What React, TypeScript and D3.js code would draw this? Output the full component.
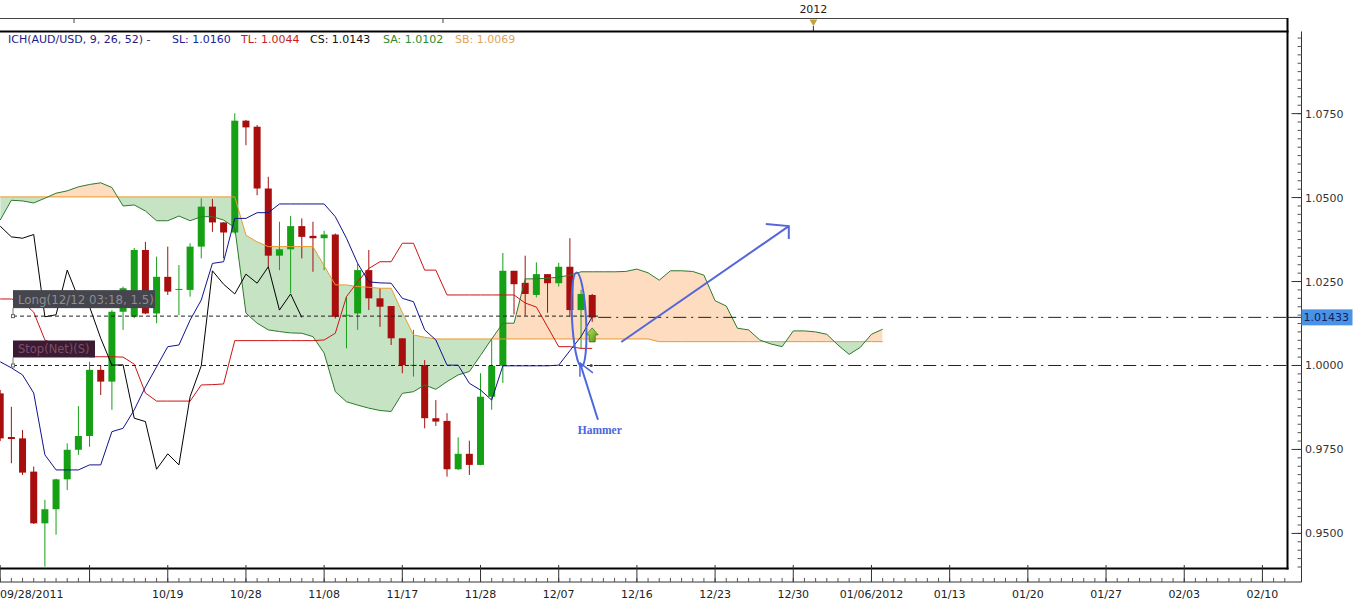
import * as d3 from "d3";

const W = 1359;
const H = 606;

// AUD/USD daily candles, 09/28/2011 .. 12/12/2011 (one per weekday)
const opens = [
  0.9917, 0.9787, 0.9783, 0.9684, 0.953, 0.9572, 0.9661, 0.9749, 0.979, 0.9987,
  0.9952, 1.016, 1.0145, 1.0344, 1.0155, 1.0264, 1.0226, 1.0225, 1.0354, 1.0473,
  1.0426, 1.0396, 1.0729, 1.0711, 1.0527, 1.0327, 1.0346, 1.0415, 1.0386, 1.0379,
  1.039, 1.015, 1.0155, 1.0284, 1.02, 1.0177, 1.0081, 1.0001, 1.0001, 0.9843,
  0.9835, 0.9691, 0.9737, 0.9704, 0.9907, 0.9999, 1.0282, 1.0246, 1.021, 1.0272,
  1.0245, 1.0294, 1.0165, 1.021,
];
const highs = [
  0.9927, 0.9877, 0.9808, 0.9699, 0.96, 0.9663, 0.9768, 0.9879, 1.0011, 1.0001,
  1.0165, 1.0235, 1.035, 1.0368, 1.0324, 1.0354, 1.0299, 1.0364, 1.0498, 1.0496,
  1.0427, 1.0751, 1.0731, 1.0716, 1.0562, 1.0428, 1.0445, 1.0438, 1.0428, 1.0401,
  1.0393, 1.0205, 1.0304, 1.0344, 1.023, 1.0177, 1.0081, 1.0106, 1.0016, 0.9897,
  0.9858, 0.9786, 0.9776, 0.9977, 1.0076, 1.0335, 1.0282, 1.0327, 1.0307, 1.0272,
  1.0306, 1.0379, 1.0225, 1.0213,
];
const lows = [
  0.9775, 0.9709, 0.9674, 0.9528, 0.9401, 0.9496, 0.9629, 0.9734, 0.9758, 0.9912,
  0.9868, 1.0106, 1.0141, 1.0153, 1.0126, 1.021, 1.015, 1.0205, 1.0319, 1.0398,
  1.0319, 1.0393, 1.0656, 1.0507, 1.0294, 1.0284, 1.0215, 1.0319, 1.0279, 1.0284,
  1.014, 1.0051, 1.0106, 1.0165, 1.0115, 1.0061, 0.9977, 0.9967, 0.9813, 0.982,
  0.9669, 0.9689, 0.9674, 0.9703, 0.9868, 0.9948, 1.0152, 1.0148, 1.0203, 1.0157,
  1.0235, 1.0145, 1.0051, 1.013,
];
const closes = [
  0.9783, 0.9781, 0.9681, 0.953, 0.9572, 0.9661, 0.9749, 0.979, 0.9987, 0.9952,
  1.016, 1.023, 1.0344, 1.0155, 1.0264, 1.022, 1.0228, 1.0354, 1.0473, 1.0426,
  1.0396, 1.0729, 1.0709, 1.0527, 1.0327, 1.0346, 1.0415, 1.0383, 1.0379, 1.039,
  1.0145, 1.0151, 1.0284, 1.02, 1.0175, 1.0081, 1.0001, 1.0002, 0.9843, 0.9833,
  0.9691, 0.9737, 0.9704, 0.9907, 0.9999, 1.0282, 1.0242, 1.0213, 1.0272, 1.0245,
  1.0294, 1.0165, 1.0213, 1.0143,
];

// Ichimoku lines, per bar
const tenkan = [
  1.0011, 0.9993, 0.9972, 0.9918, 0.9734, 0.9689, 0.9689, 0.9689, 0.9704, 0.9704,
  0.9803, 0.9813, 0.9868, 0.9936, 0.9996, 1.0056, 1.0061, 1.0135, 1.0195, 1.0304,
  1.0309, 1.0438, 1.0438, 1.0455, 1.0455, 1.0481, 1.0481, 1.0481, 1.0481, 1.0481,
  1.0443, 1.0379, 1.0304, 1.0249, 1.0246, 1.0245, 1.02, 1.019, 1.0106, 1.0076,
  1.0001, 1.0001, 0.9947, 0.9927, 0.9897, 0.9999, 0.9999, 0.9999, 0.9999, 0.9999,
  1.0001, 1.0044, 1.0086, 1.0145,
];
const kijun = [
  1.0198, 1.0198, 1.0189, 1.0159, 1.0076, 1.0061, 1.0046, 1.0034, 1.0026, 1.0026,
  1.0026, 1.0025, 1.0004, 0.9918, 0.9894, 0.9894, 0.9894, 0.9894, 0.9942, 0.9943,
  0.9945, 1.0074, 1.0074, 1.0074, 1.0074, 1.0074, 1.0074, 1.0074, 1.0074, 1.0076,
  1.0096, 1.0205, 1.0249, 1.0289, 1.0309, 1.0309, 1.0364, 1.0364, 1.0284, 1.0284,
  1.021, 1.021, 1.021, 1.021, 1.021, 1.021, 1.021, 1.0186, 1.0174, 1.0115,
  1.0056, 1.0056, 1.0051, 1.0051,
];
// lagging span, starts at bar 0
const chikou = [
  1.0415, 1.0383, 1.0379, 1.039, 1.0145, 1.0151, 1.0284, 1.02, 1.0175, 1.0081,
  1.0001, 1.0002, 0.9843, 0.9833, 0.9691, 0.9737, 0.9704, 0.9907, 0.9999, 1.0282,
  1.0242, 1.0213, 1.0272, 1.0245, 1.0294, 1.0165, 1.0213, 1.0143,
];
// leading spans, run 26 bars past the last candle
const senkouA = [
  1.0433, 1.0492, 1.049, 1.0484, 1.0498, 1.0513, 1.052, 1.0532, 1.0539, 1.0544,
  1.053, 1.0475, 1.0478, 1.046, 1.0431, 1.0431, 1.0445, 1.0431, 1.0443, 1.0443,
  1.0433, 1.0411, 1.0156, 1.0126, 1.0106, 1.0101, 1.0097, 1.0096, 1.0086, 1.0037,
  0.9922, 0.9892, 0.9882, 0.9873, 0.9866, 0.9863, 0.9917, 0.9922, 0.9942, 0.9929,
  0.9952, 0.9972, 0.9982, 1.003, 1.0079, 1.0126, 1.0126, 1.0258, 1.0258, 1.026,
  1.0263, 1.0269, 1.0279, 1.0279, 1.0279, 1.0279, 1.028, 1.0287, 1.0276, 1.0254,
  1.0282, 1.0282, 1.028, 1.0269, 1.0193, 1.0177, 1.0111, 1.0106, 1.0076, 1.0064,
  1.0056, 1.0103, 1.0103, 1.01, 1.0093, 1.0061, 1.0033, 1.0054, 1.0093, 1.0108,
];
const senkouB = [
  1.0502, 1.0502, 1.0502, 1.0502, 1.0502, 1.0502, 1.0502, 1.0502, 1.0502, 1.0502,
  1.0502, 1.0502, 1.0502, 1.0502, 1.0502, 1.0502, 1.0502, 1.0502, 1.0502, 1.0502,
  1.0502, 1.0502, 1.0388, 1.0368, 1.0354, 1.0354, 1.0354, 1.0354, 1.0354, 1.0297,
  1.024, 1.024, 1.0235, 1.0233, 1.023, 1.023, 1.0158, 1.0091, 1.0084, 1.0079,
  1.0079, 1.0079, 1.0079, 1.0079, 1.0079, 1.0079, 1.0079, 1.0079, 1.0079, 1.0079,
  1.0079, 1.0079, 1.0079, 1.0079, 1.0079, 1.0079, 1.0079, 1.0079, 1.0079, 1.0071,
  1.0071, 1.0071, 1.0071, 1.0071, 1.0071, 1.0071, 1.0071, 1.0071, 1.0071, 1.0071,
  1.0071, 1.0071, 1.0071, 1.0071, 1.0071, 1.0071, 1.0071, 1.0071, 1.0071, 1.0071,
];

const tickBars = [0, 8, 15, 22, 29, 36, 43, 50, 57, 64, 71, 78, 85, 92, 99, 106, 113];
const tickLabels = [
  "09/28/2011", "", "10/19", "10/28", "11/08", "11/17", "11/28", "12/07", "12/16",
  "12/23", "12/30", "01/06/2012", "01/13", "01/20", "01/27", "02/03", "02/10",
];
const priceTicks = [0.95, 0.975, 1.0, 1.025, 1.05, 1.075];
const yearBar = 72.8;
const lastPrice = 1.01433;
const entryPrice = 1.0147;
const stopPrice = 1.0;

const legend = [
  { text: "ICH(AUD/USD, 9, 26, 52) -", color: "#1c1c86", x: 8 },
  { text: "SL: 1.0160", color: "#22229a", x: 172 },
  { text: "TL: 1.0044", color: "#c41e1e", x: 241 },
  { text: "CS: 1.0143", color: "#111111", x: 310 },
  { text: "SA: 1.0102", color: "#2e8a2e", x: 383 },
  { text: "SB: 1.0069", color: "#e2a45c", x: 455 },
];

const FONT = "'DejaVu Sans', Verdana, sans-serif";
const LEFT = 0;
const RIGHT = 1287.5;
const TOP = 31.5;
const BOTTOM = 568.5;
const AXIS_X = 1301.5;
const RULER_Y = 582;

export default function App() {
  const x = d3.scaleLinear().domain([0, 115.2]).range([0.2, 1287]);
  const y = d3.scaleLinear().domain([0.9397, 1.0996]).range([568, 31]);

  const line = d3
    .line<number>()
    .x((_, i) => x(i))
    .y((v) => y(v));

  const cloud = d3
    .area<number>()
    .x((_, i) => x(i))
    .y0((_, i) => y(senkouB[i]))
    .y1((v) => y(v));
  const belowB = d3
    .area<number>()
    .x((_, i) => x(i))
    .y0((v) => y(v))
    .y1(BOTTOM);
  const aboveB = d3
    .area<number>()
    .x((_, i) => x(i))
    .y0(TOP)
    .y1((v) => y(v));

  const last = closes.length - 1;
  const dashEnd = x(last) + 6;
  const minorPrices = d3.range(0.94, 1.0996, 0.0025);

  const entryY = y(entryPrice);
  const stopY = y(stopPrice);
  const lastY = y(lastPrice);

  // hammer annotation anchored on bar 52
  const hx = x(52) - 2;
  const hy = y(1.0137);
  const tipX = x(51.9);
  const tipY = y(1.0008);
  const arrowFrom = [x(55.6), y(1.007)];
  const arrowTo = [x(70.6), y(1.0415)];

  return (
    <svg
      width={W}
      height={H}
      style={{ position: "absolute", left: 0, top: 0, background: "#fff" }}
      fontFamily={FONT}
    >
      <defs>
        <clipPath id="plot">
          <rect x={LEFT} y={TOP} width={RIGHT - LEFT} height={BOTTOM - TOP} />
        </clipPath>
        <clipPath id="belowB">
          <path d={belowB(senkouB) ?? ""} />
        </clipPath>
        <clipPath id="aboveB">
          <path d={aboveB(senkouB) ?? ""} />
        </clipPath>
        <linearGradient id="upArrow" x1="0" y1="0" x2="1" y2="1">
          <stop offset="0" stopColor="#c4e86a" />
          <stop offset="1" stopColor="#4e8e0e" />
        </linearGradient>
      </defs>

      {/* legend */}
      {legend.map((d) => (
        <text key={d.text} x={d.x} y={43} fontSize={11} fill={d.color}>
          {d.text}
        </text>
      ))}

      <g clipPath="url(#plot)">
        {/* cloud */}
        <path d={cloud(senkouA) ?? ""} fill="#c6e3c4" clipPath="url(#belowB)" />
        <path d={cloud(senkouA) ?? ""} fill="#fddcc0" clipPath="url(#aboveB)" />

        {/* candles */}
        {opens.map((o, i) => {
          const c = closes[i];
          const col = c >= o ? "#16a016" : "#a80e0e";
          const top = y(Math.max(o, c));
          const h = Math.max(1, Math.abs(y(o) - y(c)));
          return (
            <g key={i}>
              <line x1={x(i)} x2={x(i)} y1={y(highs[i])} y2={y(lows[i])} stroke={col} />
              <rect x={x(i) - 3.5} y={top} width={7} height={h} fill={col} />
            </g>
          );
        })}

        <path d={line(senkouB) ?? ""} fill="none" stroke="#e89a30" />
        <path d={line(senkouA) ?? ""} fill="none" stroke="#2c7a2c" />
        <path d={line(kijun) ?? ""} fill="none" stroke="#cc1414" />
        <path d={line(tenkan) ?? ""} fill="none" stroke="#121290" />
        <path d={line(chikou) ?? ""} fill="none" stroke="#000" />

        {/* order levels */}
        <line x1={13} x2={dashEnd} y1={entryY} y2={entryY} stroke="#222" strokeDasharray="4,3" />
        <line x1={13} x2={dashEnd} y1={stopY} y2={stopY} stroke="#222" strokeDasharray="4,3" />
        <line x1={dashEnd} x2={RIGHT} y1={lastY} y2={lastY} stroke="#222" strokeDasharray="13,5,2,5" />
        <line x1={dashEnd} x2={RIGHT} y1={stopY} y2={stopY} stroke="#222" strokeDasharray="13,5,2,5" />
        <circle cx={x(last) - 1} cy={stopY} r={1.5} fill="#444" />

        <line x1={13} x2={13} y1={entryY - 8} y2={entryY} stroke="#777" />
        <rect x={13} y={entryY - 26} width={142} height={18} fill="#45454d" />
        <text x={18} y={entryY - 12.5} fontSize={11.8} fill="#8e8e94">
          Long(12/12 03:18, 1.5)
        </text>
        <rect x={11.5} y={entryY - 1.5} width={3} height={3} fill="#fff" stroke="#666" />

        <line x1={13} x2={13} y1={stopY - 8} y2={stopY} stroke="#777" />
        <rect x={13} y={stopY - 25} width={82} height={17} fill="#3b1b31" />
        <text x={18} y={stopY - 12} fontSize={11.5} fill="#7e4e6e">
          Stop(Net)(S)
        </text>
        <rect x={11.5} y={stopY - 1.5} width={3} height={3} fill="#fff" stroke="#666" />

        {/* buy signal arrow */}
        <path
          transform={`translate(${x(last)},${y(1.0112)})`}
          d="M0,0 L6,7 L3,7 L3,14 L-3,14 L-3,7 L-6,7 Z"
          fill="url(#upArrow)"
          stroke="#3c7a0a"
          strokeWidth={0.8}
        />

        {/* hammer annotation */}
        <ellipse
          cx={hx}
          cy={hy}
          rx={7}
          ry={47}
          fill="none"
          stroke="#4a68dc"
          strokeWidth={2}
          transform={`rotate(-3,${hx},${hy})`}
        />
        <line x1={tipX} y1={tipY} x2={tipX + 18} y2={tipY + 57} stroke="#4a68dc" strokeWidth={2} />
        <line x1={tipX} y1={tipY} x2={tipX + 13} y2={tipY + 10} stroke="#4a68dc" strokeWidth={1.5} />
        <line x1={tipX} y1={tipY} x2={tipX} y2={tipY + 14} stroke="#4a68dc" strokeWidth={1.5} />
        <text
          x={x(51.7)}
          y={y(0.9808) + 4}
          fontSize={11.5}
          fontWeight="bold"
          fontFamily="'Liberation Serif', 'Times New Roman', serif"
          fill="#4a66da"
        >
          Hammer
        </text>

        {/* projected move */}
        <g stroke="#5566d8" strokeWidth={2} fill="none">
          <line x1={arrowFrom[0]} y1={arrowFrom[1]} x2={arrowTo[0]} y2={arrowTo[1]} />
          <polyline
            points={`${arrowTo[0] - 23},${arrowTo[1] - 2} ${arrowTo[0]},${arrowTo[1]} ${arrowTo[0]},${arrowTo[1] + 13}`}
          />
        </g>
      </g>

      {/* top strip */}
      <line x1={LEFT} x2={RIGHT} y1={18.5} y2={18.5} stroke="#444" />
      <line x1={74} x2={74} y1={18.5} y2={23} stroke="#444" />
      <line x1={443} x2={443} y1={18.5} y2={23} stroke="#444" />
      <text x={x(yearBar)} y={13} fontSize={11} fill="#222" textAnchor="middle">
        2012
      </text>
      <path
        d={`M${x(yearBar) - 4},19.5 L${x(yearBar) + 4},19.5 L${x(yearBar)},26 Z`}
        fill="#c8a03a"
      />
      <line x1={x(yearBar)} x2={x(yearBar)} y1={26} y2={32} stroke="#333" />

      {/* frame */}
      <line x1={LEFT} x2={RIGHT + 1} y1={TOP} y2={TOP} stroke="#000" strokeWidth={2} />
      <line x1={LEFT} x2={RIGHT + 1} y1={BOTTOM} y2={BOTTOM} stroke="#000" strokeWidth={2.2} />
      <line x1={RIGHT} x2={RIGHT} y1={18} y2={BOTTOM + 1} stroke="#000" strokeWidth={2} />

      {/* bottom ruler */}
      <line x1={LEFT} x2={AXIS_X} y1={RULER_Y} y2={RULER_Y} stroke="#333" />
      {d3.range(0, 116).map((i) => (
        <line key={i} x1={x(i)} x2={x(i)} y1={RULER_Y - 4} y2={RULER_Y} stroke="#555" />
      ))}
      {tickBars.map((b, i) => (
        <g key={b}>
          <line x1={x(b)} x2={x(b)} y1={565} y2={RULER_Y} stroke="#333" />
          {tickLabels[i] && (
            <text
              x={i === 0 ? 0 : x(b)}
              y={598}
              fontSize={11}
              fill="#222"
              textAnchor={i === 0 ? "start" : "middle"}
            >
              {tickLabels[i]}
            </text>
          )}
        </g>
      ))}

      {/* price axis */}
      <line x1={AXIS_X} x2={AXIS_X} y1={TOP} y2={RULER_Y} stroke="#333" />
      {minorPrices.map((p) => (
        <line key={p} x1={AXIS_X - 4} x2={AXIS_X} y1={y(p)} y2={y(p)} stroke="#555" />
      ))}
      {priceTicks.map((p) => (
        <g key={p}>
          <line x1={AXIS_X - 10} x2={AXIS_X} y1={y(p)} y2={y(p)} stroke="#333" />
          <text x={AXIS_X + 3.5} y={y(p) + 4} fontSize={11} fill="#333">
            {p.toFixed(4)}
          </text>
        </g>
      ))}
      <line x1={RIGHT} x2={AXIS_X} y1={lastY} y2={lastY} stroke="#222" />
      <rect x={AXIS_X} y={lastY - 8} width={51} height={16} fill="#4a92e6" />
      <text x={AXIS_X + 2} y={lastY + 4} fontSize={11} fill="#0c1f5e">
        {lastPrice.toFixed(5)}
      </text>
    </svg>
  );
}
